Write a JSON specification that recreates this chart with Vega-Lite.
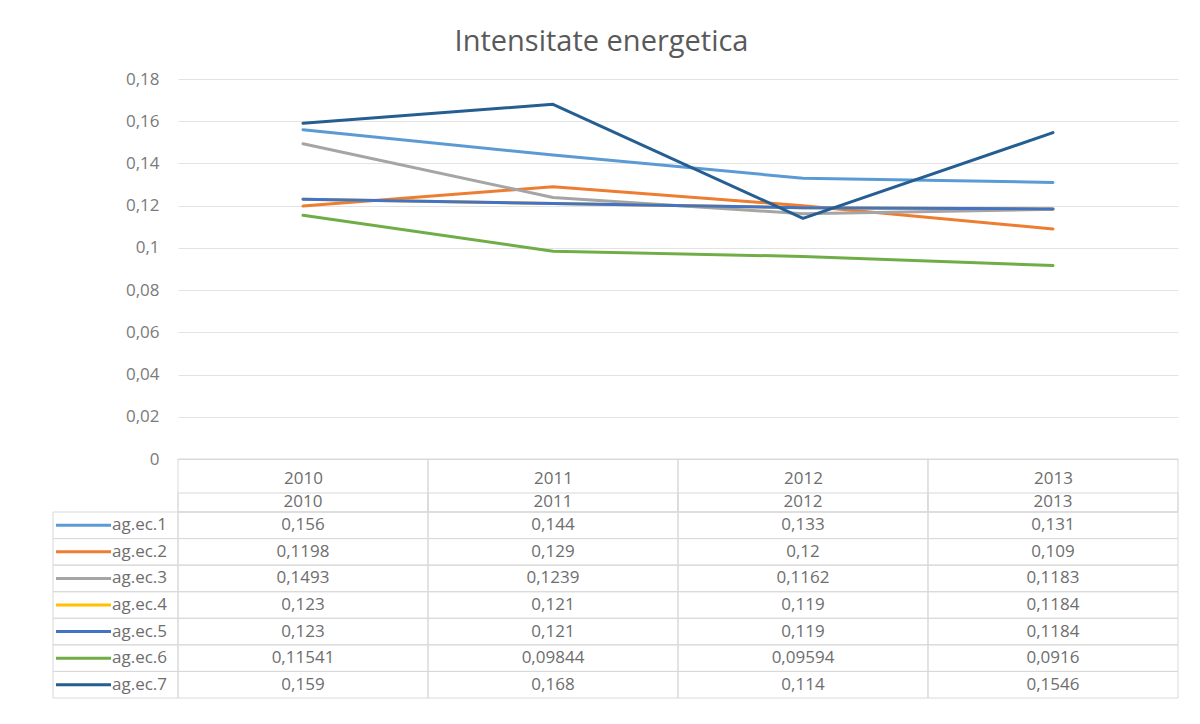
{
  "$schema": "https://vega.github.io/schema/vega-lite/v6.json",
  "width": 1000,
  "height": 380,
  "padding": {"left": 52, "top": 28, "right": 10, "bottom": 10},
  "background": "white",
  "title": {"text": "Intensitate energetica", "fontSize": 29, "font": "Open Sans", "fontWeight": "normal", "color": "#595959", "anchor": "middle", "frame": "bounds", "dx": -14, "offset": 13},
  "config": {
    "font": "Open Sans",
    "view": {"stroke": null},
    "locale": {"number": {"decimal": ",", "thousands": ".", "grouping": [3], "currency": ["", " €"]}}
  },
  "datasets": {
    "d": [
      {"s": "ag.ec.1", "year": 2010, "v": 0.156}, {"s": "ag.ec.1", "year": 2011, "v": 0.144}, {"s": "ag.ec.1", "year": 2012, "v": 0.133}, {"s": "ag.ec.1", "year": 2013, "v": 0.131},
      {"s": "ag.ec.2", "year": 2010, "v": 0.1198}, {"s": "ag.ec.2", "year": 2011, "v": 0.129}, {"s": "ag.ec.2", "year": 2012, "v": 0.12}, {"s": "ag.ec.2", "year": 2013, "v": 0.109},
      {"s": "ag.ec.3", "year": 2010, "v": 0.1493}, {"s": "ag.ec.3", "year": 2011, "v": 0.1239}, {"s": "ag.ec.3", "year": 2012, "v": 0.1162}, {"s": "ag.ec.3", "year": 2013, "v": 0.1183},
      {"s": "ag.ec.4", "year": 2010, "v": 0.123}, {"s": "ag.ec.4", "year": 2011, "v": 0.121}, {"s": "ag.ec.4", "year": 2012, "v": 0.119}, {"s": "ag.ec.4", "year": 2013, "v": 0.1184},
      {"s": "ag.ec.5", "year": 2010, "v": 0.123}, {"s": "ag.ec.5", "year": 2011, "v": 0.121}, {"s": "ag.ec.5", "year": 2012, "v": 0.119}, {"s": "ag.ec.5", "year": 2013, "v": 0.1184},
      {"s": "ag.ec.6", "year": 2010, "v": 0.11541}, {"s": "ag.ec.6", "year": 2011, "v": 0.09844}, {"s": "ag.ec.6", "year": 2012, "v": 0.09594}, {"s": "ag.ec.6", "year": 2013, "v": 0.0916},
      {"s": "ag.ec.7", "year": 2010, "v": 0.159}, {"s": "ag.ec.7", "year": 2011, "v": 0.168}, {"s": "ag.ec.7", "year": 2012, "v": 0.114}, {"s": "ag.ec.7", "year": 2013, "v": 0.1546}
    ]
  },
  "data": {"name": "d"},
  "resolve": {"scale": {"x": "independent", "y": "independent"}},
  "layer": [
    {
      "mark": {"type": "line", "strokeWidth": 3, "strokeCap": "round", "strokeJoin": "round"},
      "encoding": {
        "x": {"field": "year", "type": "ordinal", "scale": {"type": "point", "domain": [2010, 2011, 2012, 2013], "padding": 0.5},
          "axis": {"title": null, "labelFontSize": 17, "labelColor": "#6e6e6e", "labelPadding": 11, "ticks": false, "tickSize": 0, "domainColor": "#d9d9d9", "labelAngle": 0, "grid": false}},
        "y": {"field": "v", "type": "quantitative", "scale": {"domain": [0, 0.18], "nice": false, "zero": true},
          "axis": {"title": null, "values": [0, 0.02, 0.04, 0.06, 0.08, 0.1, 0.12, 0.14, 0.16, 0.18], "format": "~g", "labelFontSize": 17, "labelColor": "#7a7a7a", "labelPadding": 19, "ticks": false, "tickSize": 0, "domain": false, "grid": true, "gridColor": "#e3e3e3"}},
        "color": {"field": "s", "type": "nominal",
          "scale": {"domain": ["ag.ec.1", "ag.ec.2", "ag.ec.3", "ag.ec.4", "ag.ec.5", "ag.ec.6", "ag.ec.7"], "range": ["#5B9BD5", "#ED7D31", "#A5A5A5", "#FFC000", "#4472C4", "#70AD47", "#255E91"]},
          "legend": null}
      }
    },
    {
      "transform": [{"filter": "datum.s === 'ag.ec.1'"}],
      "layer": [
        {
          "mark": {"type": "rect", "filled": false, "color": "#d9d9d9", "strokeWidth": 1},
          "encoding": {
            "x": {"field": "year", "type": "ordinal", "scale": {"type": "band", "domain": [2010, 2011, 2012, 2013], "paddingInner": 0, "paddingOuter": 0}, "axis": null},
            "y": {"datum": 0, "type": "quantitative", "scale": {"domain": [0, 1], "range": [380, 433], "nice": false, "zero": false}, "axis": null},
            "y2": {"datum": 1}
          }
        },
        {
          "mark": {"type": "rect", "filled": false, "color": "#d9d9d9", "strokeWidth": 1},
          "encoding": {
            "x": {"field": "year", "type": "ordinal", "scale": {"type": "band", "domain": [2010, 2011, 2012, 2013], "paddingInner": 0, "paddingOuter": 0}, "axis": null},
            "y": {"datum": 0.6415, "type": "quantitative", "scale": {"domain": [0, 1], "range": [380, 433], "nice": false, "zero": false}, "axis": null},
            "y2": {"datum": 1}
          }
        },
        {
          "mark": {"type": "text", "fontSize": 17, "color": "#6e6e6e"},
          "encoding": {
            "x": {"field": "year", "type": "ordinal", "scale": {"type": "band", "domain": [2010, 2011, 2012, 2013], "paddingInner": 0, "paddingOuter": 0}, "axis": null},
            "y": {"datum": 0.811, "type": "quantitative", "scale": {"domain": [0, 1], "range": [380, 433], "nice": false, "zero": false}, "axis": null},
            "text": {"field": "year", "type": "ordinal"}
          }
        }
      ]
    },
    {
      "layer": [
        {
          "mark": {"type": "rect", "filled": false, "color": "#d9d9d9", "strokeWidth": 1},
          "encoding": {
            "x": {"field": "year", "type": "ordinal", "scale": {"type": "band", "domain": [2010, 2011, 2012, 2013], "paddingInner": 0, "paddingOuter": 0}, "axis": null},
            "y": {"field": "s", "type": "nominal", "scale": {"type": "band", "domain": ["ag.ec.1", "ag.ec.2", "ag.ec.3", "ag.ec.4", "ag.ec.5", "ag.ec.6", "ag.ec.7"], "range": [433, 619], "paddingInner": 0, "paddingOuter": 0}, "axis": null}
          }
        },
        {
          "mark": {"type": "text", "fontSize": 17, "color": "#6e6e6e"},
          "encoding": {
            "x": {"field": "year", "type": "ordinal", "scale": {"type": "band", "domain": [2010, 2011, 2012, 2013], "paddingInner": 0, "paddingOuter": 0}, "axis": null},
            "y": {"field": "s", "type": "nominal", "scale": {"type": "band", "domain": ["ag.ec.1", "ag.ec.2", "ag.ec.3", "ag.ec.4", "ag.ec.5", "ag.ec.6", "ag.ec.7"], "range": [433, 619], "paddingInner": 0, "paddingOuter": 0}, "axis": null},
            "text": {"field": "v", "type": "quantitative", "format": "~g"}
          }
        }
      ]
    },
    {
      "transform": [{"filter": "datum.year === 2010"}],
      "layer": [
        {
          "mark": {"type": "rect", "filled": false, "color": "#d9d9d9", "strokeWidth": 1},
          "encoding": {
            "x": {"datum": 0, "type": "quantitative", "scale": {"domain": [0, 1], "range": [-125, 0], "nice": false, "zero": false}, "axis": null},
            "x2": {"datum": 1},
            "y": {"field": "s", "type": "nominal", "scale": {"type": "band", "domain": ["ag.ec.1", "ag.ec.2", "ag.ec.3", "ag.ec.4", "ag.ec.5", "ag.ec.6", "ag.ec.7"], "range": [433, 619], "paddingInner": 0, "paddingOuter": 0}, "axis": null}
          }
        },
        {
          "mark": {"type": "rule", "strokeWidth": 3},
          "encoding": {
            "x": {"datum": 0.024, "type": "quantitative", "scale": {"domain": [0, 1], "range": [-125, 0], "nice": false, "zero": false}, "axis": null},
            "x2": {"datum": 0.464},
            "y": {"field": "s", "type": "nominal", "scale": {"type": "band", "domain": ["ag.ec.1", "ag.ec.2", "ag.ec.3", "ag.ec.4", "ag.ec.5", "ag.ec.6", "ag.ec.7"], "range": [433, 619], "paddingInner": 0, "paddingOuter": 0}, "axis": null},
            "color": {"field": "s", "type": "nominal", "legend": null}
          }
        },
        {
          "mark": {"type": "text", "fontSize": 17, "color": "#6e6e6e", "align": "left"},
          "encoding": {
            "x": {"datum": 0.472, "type": "quantitative", "scale": {"domain": [0, 1], "range": [-125, 0], "nice": false, "zero": false}, "axis": null},
            "y": {"field": "s", "type": "nominal", "scale": {"type": "band", "domain": ["ag.ec.1", "ag.ec.2", "ag.ec.3", "ag.ec.4", "ag.ec.5", "ag.ec.6", "ag.ec.7"], "range": [433, 619], "paddingInner": 0, "paddingOuter": 0}, "axis": null},
            "text": {"field": "s", "type": "nominal"}
          }
        }
      ]
    }
  ]
}
